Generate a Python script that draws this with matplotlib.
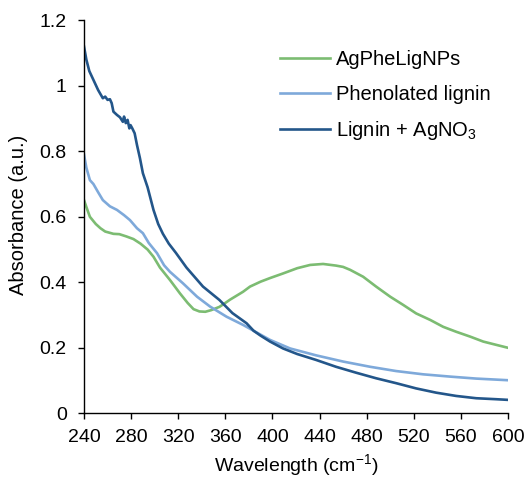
import matplotlib
matplotlib.use("Agg")
import matplotlib.pyplot as plt
from matplotlib.ticker import FuncFormatter

plt.rcParams['font.family'] = ['Liberation Sans', 'DejaVu Sans']
plt.rcParams['mathtext.fontset'] = 'custom'
plt.rcParams['mathtext.rm'] = 'Liberation Sans'
plt.rcParams['mathtext.it'] = 'Liberation Sans:italic'

# Lignin + AgNO3
dark_x = [240, 242, 244.5, 248, 252, 256, 258, 260, 262, 263.5, 265, 268, 270.5, 273, 274,
          275.5, 277, 278.5, 279.5, 281, 283, 285, 287.5, 290, 294, 299, 303, 307, 312, 318,
          327, 341, 355, 366, 378, 384, 390, 398, 409, 421, 437, 454, 471, 488, 505, 522,
          539, 556, 573, 590, 600]
dark_y = [1.12, 1.08, 1.045, 1.018, 0.987, 0.962, 0.967, 0.957, 0.959, 0.947, 0.921, 0.911,
          0.904, 0.89, 0.906, 0.886, 0.896, 0.87, 0.88, 0.87, 0.855, 0.819, 0.779, 0.733,
          0.69, 0.621, 0.578, 0.548, 0.518, 0.49, 0.445, 0.387, 0.346, 0.306, 0.275, 0.252,
          0.237, 0.219, 0.198, 0.181, 0.163, 0.142, 0.124, 0.107, 0.092, 0.076, 0.063, 0.053,
          0.046, 0.043, 0.041]

# Phenolated lignin
light_x = [240, 242, 245, 248, 252, 256, 262, 268, 274, 279, 285, 290, 295, 302, 308, 313,
           324, 336, 347, 361, 375, 384, 398, 415, 437, 460, 483, 505, 528, 551, 573, 600]
light_y = [0.79, 0.75, 0.712, 0.70, 0.675, 0.651, 0.632, 0.621, 0.605, 0.59, 0.565, 0.55,
           0.52, 0.489, 0.452, 0.432, 0.397, 0.356, 0.326, 0.295, 0.27, 0.252, 0.224, 0.198,
           0.177, 0.158, 0.142, 0.129, 0.119, 0.112, 0.106, 0.101]

# AgPheLigNPs
green_x = [240, 242, 245, 250, 254, 258, 265, 270, 276, 282, 288, 294, 299, 304.5, 313,
           321.5, 328, 333, 338, 343, 348, 355, 360, 364, 375, 381, 390, 398, 409, 421, 432,
           443, 454, 460, 466, 477, 488, 500, 511, 522, 534, 545, 556, 568, 579, 590, 600]
green_y = [0.651, 0.63, 0.6, 0.578, 0.565, 0.555, 0.548, 0.547, 0.54, 0.532, 0.518, 0.5,
           0.478, 0.445, 0.407, 0.366, 0.337, 0.318, 0.311, 0.31, 0.315, 0.325, 0.337, 0.347,
           0.371, 0.387, 0.402, 0.413, 0.427, 0.443, 0.453, 0.456, 0.451, 0.447, 0.438,
           0.417, 0.387, 0.356, 0.331, 0.305, 0.285, 0.264, 0.249, 0.234, 0.219, 0.209, 0.2]

labels = ['AgPheLigNPs', 'Phenolated lignin', 'Lignin + AgNO$_3$']
colors = ['#7CBC72', '#7EA9DA', '#23568A']

x_ticks = [240, 280, 320, 360, 400, 440, 480, 520, 560, 600]
y_ticks = [0, 0.2, 0.4, 0.6, 0.8, 1.0, 1.2]

W, H = 525, 480
fig = plt.figure(figsize=(W / 100, H / 100), dpi=100)
ax = fig.add_axes([84 / W, 1 - 413.3 / H, 424 / W, 393 / H])

ax.plot(green_x, green_y, color=colors[0], lw=1.9, label=labels[0])
ax.plot(light_x, light_y, color=colors[1], lw=1.9, label=labels[1])
ax.plot(dark_x, dark_y, color=colors[2], lw=1.9, label=labels[2])

ax.set_xlim(240, 600)
ax.set_ylim(0, 1.2)
ax.set_xticks(x_ticks)
ax.set_yticks(y_ticks)
ax.yaxis.set_major_formatter(FuncFormatter(lambda v, p: '%g' % v))
ax.tick_params(direction='out', length=4.5, width=1, labelsize=14, colors='black')
ax.tick_params(axis='x', pad=7)
ax.tick_params(axis='y', pad=8)
for s in ['top', 'right']:
    ax.spines[s].set_visible(False)
for s in ['left', 'bottom']:
    ax.spines[s].set_linewidth(1)

fig.text(296 / W, 1 - 465 / H, 'Wavelength (cm$^{-1}$)', fontsize=14,
         ha='center', va='center')
fig.text(19 / W, 1 - 215 / H, 'Absorbance (a.u.)', fontsize=14.5,
         ha='center', va='center', rotation=90)

leg = ax.legend(loc='upper left', bbox_to_anchor=(280 / W, 1 - 50 / H),
                bbox_transform=fig.transFigure, frameon=False, fontsize=14.5,
                handlelength=2.5, handletextpad=0.3, labelspacing=0.78,
                borderpad=0, borderaxespad=0)

fig.savefig('out.png', dpi=100)
